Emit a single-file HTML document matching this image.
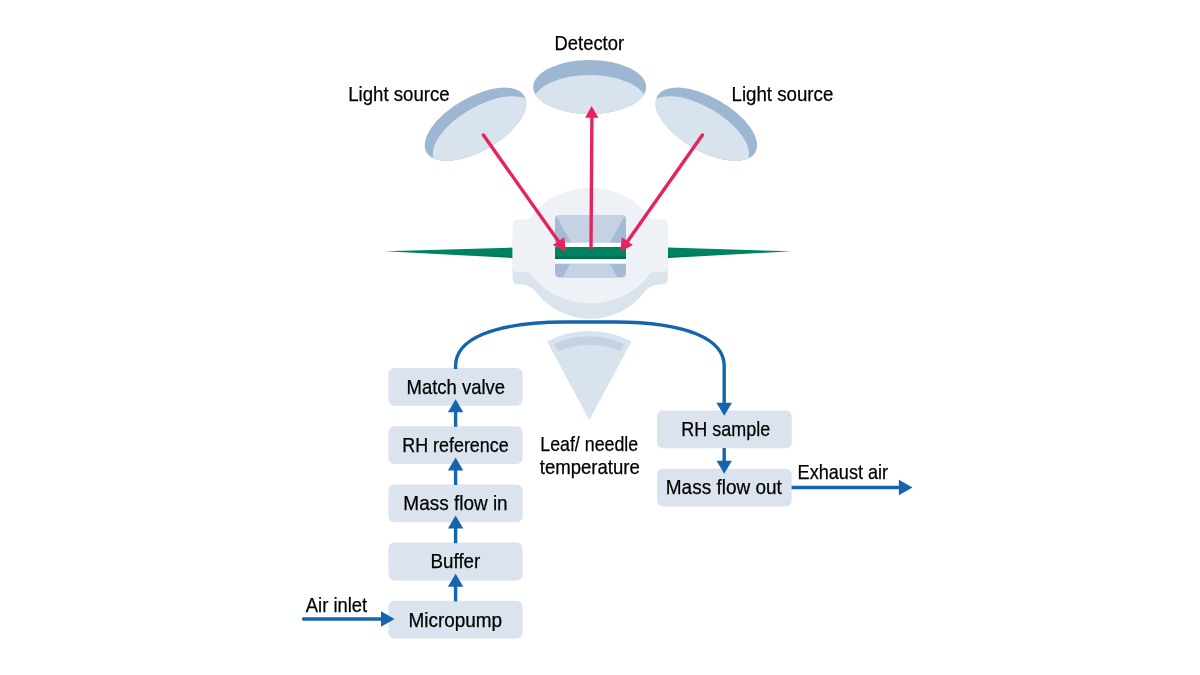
<!DOCTYPE html>
<html lang="en">
<head>
<meta charset="utf-8">
<title>Gas exchange measurement schematic</title>
<style>
html,body{margin:0;padding:0;background:#fff;}
body{width:1200px;height:675px;overflow:hidden;font-family:"Liberation Sans",sans-serif;}
svg{display:block;will-change:transform;}
text{font-family:"Liberation Sans",sans-serif;font-size:19.8px;fill:#000;stroke:#000;stroke-width:0.25px;}
.box{fill:#dae3ee;}
.bl{stroke:#1565ae;stroke-width:3.4;fill:none;}
.bh{fill:#1565ae;}
.rl{stroke:#e6245c;stroke-width:3.4;fill:none;stroke-linecap:round;}
.rh{fill:#e6245c;}
</style>
</head>
<body>
<svg width="1200" height="675" viewBox="0 0 1200 675">
<defs>
<linearGradient id="lg" x1="0" y1="0" x2="0" y2="1">
<stop offset="0" stop-color="#00835f"/><stop offset="0.7" stop-color="#00835f"/><stop offset="1" stop-color="#00664a"/>
</linearGradient>
<filter id="gs" x="0" y="0" width="1200" height="675" filterUnits="userSpaceOnUse"><feOffset dx="0" dy="0"/></filter>
<clipPath id="wc"><rect x="555" y="215" width="71" height="62.6" rx="4.5"/></clipPath>
<clipPath id="ec"><ellipse cx="589.7" cy="87" rx="56.5" ry="27"/></clipPath>
</defs>
<rect width="1200" height="675" fill="#fff"/>

<!-- detector -->
<g>
<ellipse cx="589.7" cy="87" rx="56.5" ry="27" fill="#9db6d2"/>
<ellipse cx="589.7" cy="102" rx="56.5" ry="27" fill="#d9e3ee" clip-path="url(#ec)"/>
</g>
<!-- light source left -->
<g transform="translate(475.5 124.3) rotate(-30) translate(-589.7 -87)">
<ellipse cx="589.7" cy="87" rx="56.5" ry="27" fill="#9db6d2"/>
<g clip-path="url(#ec)"><ellipse cx="592.4" cy="98.4" rx="56.5" ry="27" fill="#d9e3ee"/></g>
</g>
<!-- light source right -->
<g transform="translate(706.3 124.3) rotate(30) translate(-589.7 -87)">
<ellipse cx="589.7" cy="87" rx="56.5" ry="27" fill="#9db6d2"/>
<g clip-path="url(#ec)"><ellipse cx="587" cy="98.4" rx="56.5" ry="27" fill="#d9e3ee"/></g>
</g>

<!-- leaf -->
<path d="M384.8 251.3 L513 247.6 L668 247.6 L791 251.3 L668 258 L513 258 Z" fill="url(#lg)"/>

<!-- chamber -->
<path d="M518.10 231.00L533.01 231.00Q535.51 231.00 537.30 228.50A64 57.75 0 0 1 643.10 228.50Q644.89 231.00 647.39 231.00L662.30 231.00Q667.80 231.00 667.80 236.50L667.80 278.70Q667.80 284.20 662.30 284.20L660.81 284.20Q648.81 284.20 641.77 295.20A64 57.75 0 0 1 538.63 295.20Q531.59 284.20 519.59 284.20L518.10 284.20Q512.60 284.20 512.60 278.70L512.60 236.50Q512.60 231.00 518.10 231.00Z" fill="#dbe4ed"/>
<path d="M518.10 219.20L527.19 219.20Q529.69 219.20 531.29 216.70A68 57.75 0 0 1 649.11 216.70Q650.71 219.20 653.21 219.20L662.30 219.20Q667.80 219.20 667.80 224.70L667.80 266.50Q667.80 272.00 662.30 272.00L655.15 272.00Q650.65 272.00 648.34 275.50A68 57.75 0 0 1 532.06 275.50Q529.75 272.00 525.25 272.00L518.10 272.00Q512.60 272.00 512.60 266.50L512.60 224.70Q512.60 219.20 518.10 219.20Z" fill="#eef2f7"/>
<!-- window -->
<rect x="555" y="215" width="71" height="62.6" rx="4.5" fill="#a4bad5"/>
<g clip-path="url(#wc)">
<path d="M555.4 214 L625.6 214 L609.9 243 L571 243 Z" fill="#c4d2e4"/>
<path d="M570 264 L610.2 264 L618 278.6 L562.1 278.6 Z" fill="#c4d2e4"/>
</g>
<rect x="555" y="242.7" width="71" height="21" fill="#fff"/>
<rect x="555" y="247" width="71" height="12" fill="url(#lg)"/>

<!-- light beams -->
<line class="rl" x1="483.4" y1="135" x2="560" y2="243.5"/>
<polygon class="rh" points="565.8,251.8 552.8,244.9 564.3,237.2"/>
<line class="rl" x1="702.4" y1="135" x2="626" y2="243.5"/>
<polygon class="rh" points="620.3,251.8 632.9,244.9 621.8,237.2"/>
<line class="rl" x1="591" y1="247.6" x2="591.9" y2="116"/>
<polygon class="rh" points="591.6,106 585.1,117.7 598.5,117.7"/>

<!-- temperature sensor -->
<path d="M589.3 420 L547 341.6 A89 89 0 0 1 631.6 341.6 Z" fill="#d9e3ee"/>
<path d="M554.6 343.8 A83.7 83.7 0 0 1 624 343.8 L620.5 351.5 A75.3 75.3 0 0 0 558.1 351.5 Z" fill="#c4d2e4"/>

<!-- boxes -->
<rect class="box" x="388.4" y="368.0" width="134.2" height="37.8" rx="6"/><rect class="box" x="388.4" y="426.2" width="134.2" height="37.8" rx="6"/><rect class="box" x="388.4" y="484.4" width="134.2" height="37.8" rx="6"/><rect class="box" x="388.4" y="542.6" width="134.2" height="37.8" rx="6"/><rect class="box" x="388.4" y="600.8" width="134.2" height="37.8" rx="6"/><rect class="box" x="657.0" y="410.5" width="134.7" height="37.8" rx="6"/><rect class="box" x="657.0" y="468.7" width="134.7" height="37.8" rx="6"/>

<!-- tube -->
<path class="bl" d="M455.6 369 V366 C455.6 339 493 322.4 565 322 H615 C687 322.4 724.2 339 724.2 366 V404"/>
<polygon class="bh" points="724.2,415.8 716.4,402.8 732.0,402.8"/>

<!-- flow arrows -->
<path class="bl" d="M455.6 426.8 V411.2"/><polygon class="bh" points="455.6,399.2 447.9,412.2 463.3,412.2"/><path class="bl" d="M455.6 485.0 V469.4"/><polygon class="bh" points="455.6,457.4 447.9,470.4 463.3,470.4"/><path class="bl" d="M455.6 543.2 V527.6"/><polygon class="bh" points="455.6,515.6 447.9,528.6 463.3,528.6"/><path class="bl" d="M455.6 601.4 V585.8"/><polygon class="bh" points="455.6,573.8 447.9,586.8 463.3,586.8"/>
<path class="bl" d="M724.2 448 V461.8"/><polygon class="bh" points="724.2,473.8 716.5,460.8 731.9,460.8"/>
<path class="bl" stroke-linecap="round" d="M303.5 619 H382"/><polygon class="bh" points="394.6,619 381,611.2 381,626.8"/>
<path class="bl" d="M791.6 487.5 H900"/><polygon class="bh" points="912.5,487.5 898.8,479.8 898.8,495.2"/>

<!-- labels -->
<g filter="url(#gs)">
<text x="554.57" y="49.9" textLength="69.47" lengthAdjust="spacingAndGlyphs">Detector</text>
<text x="348.18" y="100.6" textLength="101.46" lengthAdjust="spacingAndGlyphs">Light source</text>
<text x="731.52" y="100.6" textLength="101.76" lengthAdjust="spacingAndGlyphs">Light source</text>
<text x="406.58" y="393.8" textLength="98.43" lengthAdjust="spacingAndGlyphs">Match valve</text>
<text x="402.21" y="451.8" textLength="106.47" lengthAdjust="spacingAndGlyphs">RH reference</text>
<text x="403.36" y="509.9" textLength="104.28" lengthAdjust="spacingAndGlyphs">Mass flow in</text>
<text x="430.58" y="568.0" textLength="49.68" lengthAdjust="spacingAndGlyphs">Buffer</text>
<text x="408.43" y="626.6" textLength="93.69" lengthAdjust="spacingAndGlyphs">Micropump</text>
<text x="305.81" y="611.6" textLength="61.37" lengthAdjust="spacingAndGlyphs">Air inlet</text>
<text x="681.29" y="436.2" textLength="88.90" lengthAdjust="spacingAndGlyphs">RH sample</text>
<text x="665.80" y="494.2" textLength="116.09" lengthAdjust="spacingAndGlyphs">Mass flow out</text>
<text x="797.61" y="478.8" textLength="90.55" lengthAdjust="spacingAndGlyphs">Exhaust air</text>
<text x="540.26" y="450.8" textLength="97.92" lengthAdjust="spacingAndGlyphs">Leaf/ needle</text>
<text x="539.72" y="474.0" textLength="100.13" lengthAdjust="spacingAndGlyphs">temperature</text>
</g>
</svg>
</body>
</html>
